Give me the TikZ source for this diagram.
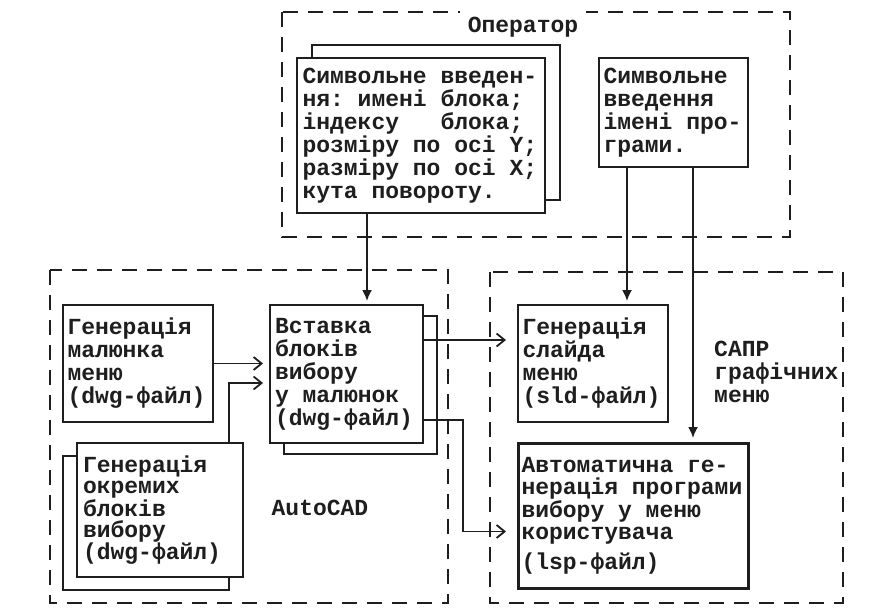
\documentclass[tikz,border=0pt]{standalone}
\usepackage{fontspec}
\newfontfamily\tw{Liberation Mono}
\usetikzlibrary{arrows.meta,calc}
\definecolor{ink}{HTML}{1E1E1E}
\tikzset{
  tt/.style={font=\tw\bfseries\fontsize{23}{23}\selectfont, text=ink},
  box/.style={tt, draw=ink, line width=2.2pt, fill=white, anchor=north west, outer sep=0pt, inner ysep=0pt, align=left,
    execute at begin node={\spaceskip=0.6em\xspaceskip=0.6em\relax}},
  shadowbox/.style={draw=ink, line width=2pt, fill=white, anchor=north west, outer sep=0pt, inner sep=0pt},
  frame/.style={draw=ink, line width=2.4pt, dash pattern=on 15pt off 10pt},
  conn/.style={draw=ink, line width=1.8pt},
  varrow/.style={conn, -{Latex[length=11pt,width=10pt]}},
  harrow/.style={conn, -{Straight Barb[length=8pt,width=13pt]}},
}
\begin{document}
\begin{tikzpicture}[x=1pt,y=-1pt]
\path[use as bounding box, fill=white] (0,0) rectangle (893,611);

% dashed frames
\draw[frame] (282,12) rectangle (790,237);
\draw[frame] (50,270) rectangle (448,603);
\draw[frame] (490,272) rectangle (843,603);
\node[tt, fill=white, inner xsep=8pt, inner ysep=8pt] (op) at (523,27) {Оператор};

% operator boxes
\node[shadowbox, minimum width=248pt, minimum height=155pt] (b1s) at (312,45) {};
\node[box, text width=237pt, inner xsep=5.5pt, minimum height=155pt] (b1) at (297,58)
  {Символьне введен-\\ня: имені блока;\\індексу\ \ \ блока;\\розміру по осі Y;\\размiру по осі X;\\кута повороту.};
\node[box, text width=140pt, inner xsep=4.5pt, minimum height=109pt] (b2) at (599,58)
  {Символьне\\введення\\імені про-\\грами.};

% AutoCAD boxes
\node[box, text width=141pt, inner xsep=4.5pt, minimum height=117pt] (gm) at (63,305)
  {Генерація\\малюнка\\меню\\(dwg-файл)};
\node[shadowbox, minimum width=166pt, minimum height=134pt] (gos) at (63,456) {};
\node[box, font=\tw\bfseries\fontsize{23}{21.5}\selectfont, text width=154pt, inner xsep=6pt, minimum height=134pt] (go) at (77,443)
  {Генерація\\окремих\\блоків\\вибору\\(dwg-файл)};
\node[shadowbox, minimum width=153pt, minimum height=138pt] (vss) at (284,316) {};
\node[box, text width=143pt, inner xsep=5pt, minimum height=138pt] (vs) at (270,305)
  {Вставка\\блоків\\вибору\\у малюнок\\(dwg-файл)};
\node[tt] (acad) at (320,508) {AutoCAD};

% CAD menu boxes
\node[box, text width=141pt, inner xsep=4.5pt, minimum height=117pt] (gs) at (518,305)
  {Генерація\\слайда\\меню\\(sld-файл)};
\node[box, line width=3pt, font=\tw\bfseries\fontsize{23}{22.5}\selectfont, text width=223pt, inner xsep=3.5pt, minimum height=145pt] (ga) at (518,443)
  {Автоматична ге-\\нерація програми\\вибору у меню\\користувача\\[7pt](lsp-файл)};
\node[tt, align=left, anchor=north west, inner sep=0pt] (sapr) at (714,341)
  {САПР\\графічних\\меню};

% connectors
\coordinate (p1) at ([xshift=70pt]b1.south west);
\draw[varrow, shorten >=4pt] (p1) -- (p1 |- vs.north);
\coordinate (p2) at ([xshift=28pt]b2.south west);
\coordinate (p3) at ([xshift=94pt]b2.south west);
\draw[varrow, shorten >=4pt] (p2) -- (p2 |- gs.north);
\draw[varrow, shorten >=5pt] (p3) -- (p3 |- ga.north);

\draw[harrow, shorten >=7pt] (gm.east) -- (gm.east -| vs.west);
\coordinate (p4) at ([xshift=152pt]go.north west);
\coordinate (p5) at ([yshift=-9pt]vs.west);
\draw[harrow, shorten >=7pt] (p4) |- (p5);

\coordinate (p6) at ([yshift=34pt]vs.east);
\draw[harrow, shorten >=12pt] (p6) -- (p6 -| gs.west);
\coordinate (p7) at ([yshift=-46pt]vs.east);
\coordinate (p8) at ([yshift=-16pt]ga.west);
\draw[harrow, shorten >=12pt] (p7) -- ++(40,0) |- (p8);
\end{tikzpicture}
\end{document}
